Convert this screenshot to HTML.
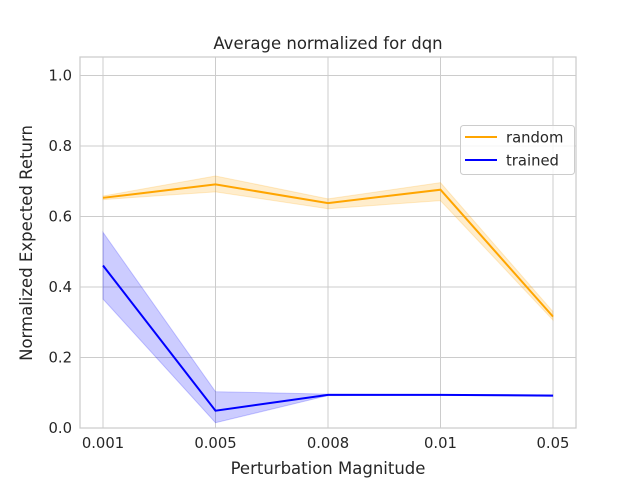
<!DOCTYPE html>
<html><head><meta charset="utf-8"><style>
body{margin:0;background:#fff;}
text{font-family:"DejaVu Sans","Liberation Sans",sans-serif;fill:#262626;}
</style></head><body>
<svg id="chart" width="640" height="480">
<rect width="640" height="480" fill="#fff"/>
<g id="grid"></g>
<g id="bands"></g>
<g id="lines"></g>
<rect x="80" y="57" width="496" height="371" fill="none" stroke="#ccc" stroke-width="1.25"/>
<g id="ticks"></g>
<text x="328" y="49" text-anchor="middle" font-size="16.5">Average normalized for dqn</text>
<text x="328" y="474" text-anchor="middle" font-size="16.5">Perturbation Magnitude</text>
<text transform="translate(32,243) rotate(-90)" text-anchor="middle" font-size="16.5">Normalized Expected Return</text>
<g>
<rect x="460.5" y="125.5" width="114" height="49" rx="3" fill="#fff" fill-opacity="0.8" stroke="#ccc"/>
<g>
<line x1="465" y1="137" x2="497" y2="137" stroke="orange" stroke-width="2"/>
<text x="506" y="142.5" font-size="14.8">random</text></g>
<g>
<line x1="465" y1="160" x2="497" y2="160" stroke="blue" stroke-width="2"/>
<text x="506" y="165.5" font-size="14.8">trained</text></g>
</g>
</svg>
<script>
const categories=["0.001","0.005","0.008","0.01","0.05"];
const randomMean=[0.653,0.691,0.638,0.676,0.316];
const randomLow=[0.648,0.670,0.622,0.645,0.306];
const randomHigh=[0.658,0.715,0.650,0.696,0.330];
const trainedMean=[0.461,0.049,0.094,0.094,0.092];
const trainedLow=[0.366,0.015,0.092,0.093,0.090];
const trainedHigh=[0.555,0.103,0.096,0.095,0.094];
const yTicks=[0,0.2,0.4,0.6,0.8,1.0];
const yTickLabels=["0.0","0.2","0.4","0.6","0.8","1.0"];
const NS="http://www.w3.org/2000/svg";
const x=i=>103+i*112.5;
const y=v=>428-v*352.5;
function mk(t,a,p){const e=document.createElementNS(NS,t);for(const k in a)e.setAttribute(k,a[k]);p.appendChild(e);return e;}
const grid=document.getElementById('grid'),ticks=document.getElementById('ticks');
yTicks.forEach((v,i)=>{
 const l=mk('line',{x1:80,x2:576,y1:y(v),y2:y(v),stroke:'#ccc','stroke-width':1},grid);
 
 
 const t=mk('text',{x:72,y:y(v)+5,'text-anchor':'end','font-size':'14.8'},ticks);
 t.textContent=yTickLabels[i];
 
 
});
categories.forEach((c,i)=>{
 const l=mk('line',{x1:x(i),x2:x(i),y1:57,y2:428,stroke:'#ccc','stroke-width':1},grid);
 
 
 const t=mk('text',{x:x(i),y:448,'text-anchor':'middle','font-size':'14.8'},ticks);
 t.textContent=c;
 
 
});
function band(lo,hi,col,name){
 let pts=lo.map((v,i)=>x(i)+','+y(v));
 for(let i=hi.length-1;i>=0;i--)pts.push(x(i)+','+y(hi[i]));
 const p=mk('polygon',{points:pts.join(' '),fill:col,'fill-opacity':0.2,stroke:col,'stroke-opacity':0.2},document.getElementById('bands'));
 
 
}
function line(m,col,name){
 const p=mk('polyline',{points:m.map((v,i)=>x(i)+','+y(v)).join(' '),fill:'none',stroke:col,'stroke-width':2},document.getElementById('lines'));
 
 
}
band(randomLow,randomHigh,'orange','random-band');
band(trainedLow,trainedHigh,'blue','trained-band');
line(randomMean,'orange','random-line');
line(trainedMean,'blue','trained-line');
</script>
</body></html>
